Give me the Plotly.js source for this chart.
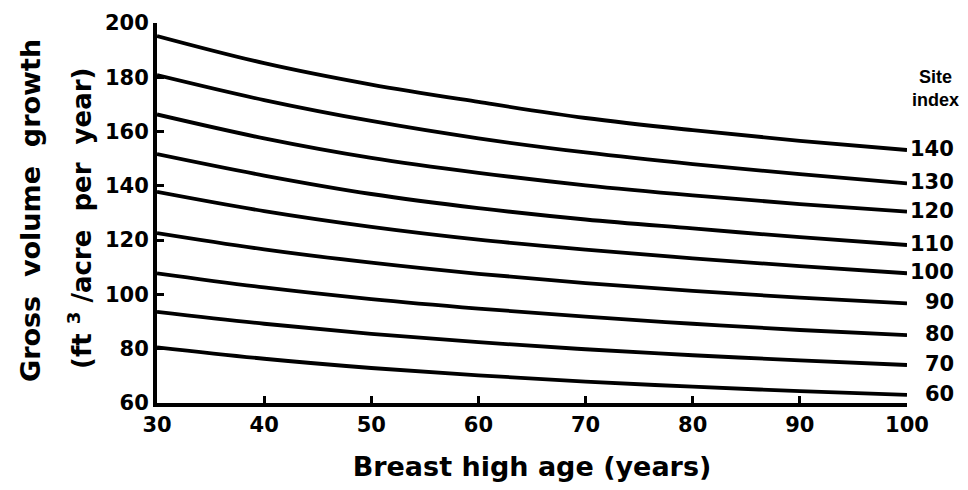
<!DOCTYPE html>
<html>
<head>
<meta charset="utf-8">
<script src="https://cdn.plot.ly/plotly-3.0.1.min.js"></script>
<style>
html,body{margin:0;padding:0;background:#fff;}
#chart{width:968px;height:490px;}
</style>
</head>
<body>
<div id="chart"></div>
<script>
// Breast high age (years)
const ages = [30, 40, 50, 60, 70, 80, 90, 100];
// Gross volume growth (ft3/acre per year) by site index
const siteIndex = [140, 130, 120, 110, 100, 90, 80, 70, 60];
const si140 = [195.2, 185.2, 177.3, 170.9, 165.0, 160.5, 156.6, 153.2];
const si130 = [180.8, 171.6, 163.9, 157.5, 152.3, 148.0, 144.3, 140.9];
const si120 = [166.3, 157.5, 150.3, 144.8, 140.2, 136.5, 133.3, 130.5];
const si110 = [151.7, 143.8, 137.0, 131.8, 127.6, 124.3, 121.1, 118.2];
const si100 = [137.8, 130.7, 124.9, 120.2, 116.5, 113.3, 110.4, 107.8];
const si90  = [122.6, 116.6, 111.7, 107.6, 104.2, 101.3,  98.8,  96.7];
const si80  = [107.8, 102.6,  98.3,  94.8,  91.8,  89.2,  86.9,  85.0];
const si70  = [ 93.6,  89.2,  85.5,  82.4,  79.8,  77.6,  75.7,  74.0];
const si60  = [ 80.5,  76.3,  72.9,  70.2,  67.9,  66.0,  64.4,  63.0];
const xTicks = [30, 40, 50, 60, 70, 80, 90, 100];
const yTicks = [60, 80, 100, 120, 140, 160, 180, 200];

const seriesList = [si140, si130, si120, si110, si100, si90, si80, si70, si60];

const traces = seriesList.map((ys, i) => ({
  x: ages, y: ys, type: 'scatter', mode: 'lines',
  name: String(siteIndex[i]),
  line: {color: '#000', width: 3.8, shape: 'spline', smoothing: 1},
  hoverinfo: 'skip', showlegend: false
}));

const tickFont = {family: 'DejaVu Sans', size: 21, color: '#000', weight: 'bold'};

const annotations = seriesList.map((ys, i) => ({
  xref: 'x', yref: 'y', x: 100, y: ys[ys.length - 1],
  text: String(siteIndex[i]), showarrow: false,
  xanchor: 'right', yanchor: 'middle', xshift: 49, yshift: 1,
  font: {family: 'DejaVu Sans', size: 21, color: '#000', weight: 'bold'}
}));

annotations.push({
  xref: 'x', yref: 'paper', x: 100, y: 1, yanchor: 'top',
  text: 'Site<br>index', showarrow: false, xanchor: 'center', xshift: 28, yshift: -42,
  align: 'center',
  font: {family: 'Liberation Sans', size: 18, color: '#000', weight: 'bold'}
});
annotations.push({
  xref: 'paper', yref: 'paper', x: 0, y: 0.5, xanchor: 'center', yanchor: 'middle',
  xshift: -127, yshift: 2, textangle: -90, showarrow: false,
  text: 'Gross  volume  growth',
  font: {family: 'DejaVu Sans', size: 27, color: '#000', weight: 'bold'}
});
annotations.push({
  xref: 'paper', yref: 'paper', x: 0, y: 0.5, xanchor: 'center', yanchor: 'middle',
  xshift: -77, yshift: -6, textangle: -90, showarrow: false,
  text: '(ft <sup>3</sup> /acre  per  year)',
  font: {family: 'DejaVu Sans', size: 26, color: '#000', weight: 'bold'}
});

const layout = {
  width: 968, height: 490,
  margin: {l: 157, r: 61, t: 23, b: 87},
  paper_bgcolor: '#fff', plot_bgcolor: '#fff',
  showlegend: false,
  xaxis: {
    range: [30, 100], tickvals: xTicks, ticktext: xTicks.map(String),
    ticks: 'inside', ticklen: 7, tickwidth: 3, tickcolor: '#000',
    showline: true, linewidth: 4, linecolor: '#000', mirror: false,
    showgrid: false, zeroline: false, tickfont: tickFont,
    title: {text: 'Breast high age (years)', standoff: 22,
      font: {family: 'DejaVu Sans', size: 27, color: '#000', weight: 'bold'}}
  },
  yaxis: {
    range: [60, 200], tickvals: yTicks, ticktext: yTicks.map(String),
    ticks: 'inside', ticklen: 7, tickwidth: 3, tickcolor: '#000',
    showline: true, linewidth: 4, linecolor: '#000',
    showgrid: false, zeroline: false, tickfont: tickFont
  },
  annotations: annotations
};

Plotly.newPlot('chart', traces, layout, {staticPlot: true, displayModeBar: false});
</script>
</body>
</html>
